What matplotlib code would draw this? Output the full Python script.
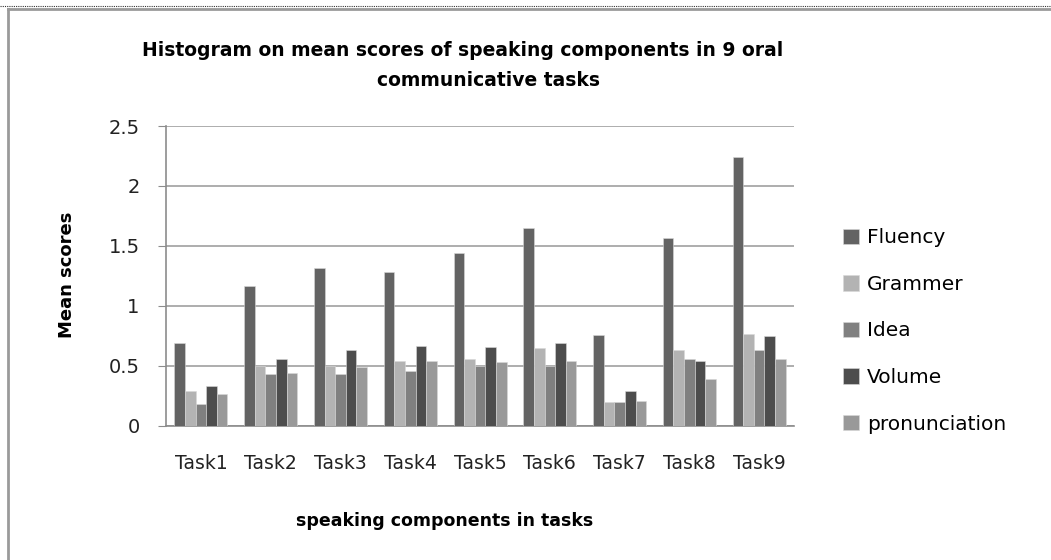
import numpy as np
from matplotlib import pyplot as plt
from matplotlib.lines import Line2D

#--- data ---------------------------------------------------------------------#
tasks = ['Task1', 'Task2', 'Task3', 'Task4', 'Task5', 'Task6', 'Task7', 'Task8', 'Task9']

fluency       = [0.69, 1.17, 1.32, 1.28, 1.44, 1.65, 0.76, 1.57, 2.24]
grammer       = [0.29, 0.50, 0.50, 0.54, 0.56, 0.65, 0.20, 0.63, 0.77]
idea          = [0.18, 0.43, 0.43, 0.46, 0.50, 0.50, 0.20, 0.56, 0.63]
volume        = [0.33, 0.56, 0.63, 0.67, 0.66, 0.69, 0.29, 0.54, 0.75]
pronunciation = [0.27, 0.44, 0.49, 0.54, 0.53, 0.54, 0.21, 0.39, 0.56]

series = [fluency, grammer, idea, volume, pronunciation]
labels = ['Fluency', 'Grammer', 'Idea', 'Volume', 'pronunciation']
colors = ['#636363', '#b3b3b3', '#808080', '#4d4d4d', '#999999']

#--- figure -------------------------------------------------------------------#
plt.rcParams['font.family'] = ['DejaVu Sans']

fig = plt.figure(figsize=(10.51, 5.60), dpi=100)
ax = fig.add_axes([0.158, 0.2393, 0.5975, 0.5357])

ind = np.arange(len(tasks))
width = 0.152

bars = []
for i, (vals, lab, col) in enumerate(zip(series, labels, colors)):
    b = ax.bar(ind + (i - 2) * width, vals, width, color=col, label=lab,
               edgecolor='#d8d8d8', linewidth=0.4, zorder=3)
    bars.append(b)

ax.set_xlim(-0.5, len(tasks) - 0.5)
ax.set_ylim(0, 2.5)
ax.set_yticks([0, 0.5, 1, 1.5, 2, 2.5])
ax.set_yticklabels(['0', '0.5', '1', '1.5', '2', '2.5'])
ax.set_xticks(ind)
ax.set_xticklabels(tasks)

ax.yaxis.grid(True, color='#a0a0a0', linewidth=1.2, zorder=0)
ax.set_axisbelow(True)

for s in ['top', 'right']:
    ax.spines[s].set_visible(False)
ax.spines['left'].set_color('#8c8c8c')
ax.spines['bottom'].set_color('#8c8c8c')
ax.spines['left'].set_linewidth(1.2)
ax.spines['bottom'].set_linewidth(1.2)

ax.tick_params(axis='y', length=6, color='#8c8c8c', pad=13, labelsize=14, labelcolor='#222222')
ax.tick_params(axis='x', length=0, pad=20, labelsize=13.5, labelcolor='#222222')

fig.text(0.44, 0.91, 'Histogram on mean scores of speaking components in 9 oral',
         ha='center', va='center', fontsize=13.5, fontweight='bold')
fig.text(0.465, 0.857, 'communicative tasks',
         ha='center', va='center', fontsize=13.5, fontweight='bold')
fig.text(0.423, 0.07, 'speaking components in tasks',
         ha='center', va='center', fontsize=12.5, fontweight='bold')
fig.text(0.064, 0.51, 'Mean scores', rotation=90,
         ha='center', va='center', fontsize=13, fontweight='bold')

fig.legend(handles=bars, labels=labels, loc='center left',
           bbox_to_anchor=(0.785, 0.409), frameon=False, fontsize=14.5,
           handlelength=0.8, handleheight=0.8, handletextpad=0.4,
           labelspacing=1.37)

#--- frame --------------------------------------------------------------------#
fig.add_artist(Line2D([0.0076, 0.0076], [0.0, 0.984], transform=fig.transFigure,
                      color='#9a9a9a', linewidth=2.0))
fig.add_artist(Line2D([0.0076, 1.0], [0.984, 0.984], transform=fig.transFigure,
                      color='#9a9a9a', linewidth=2.0))
fig.add_artist(Line2D([0.0, 1.0], [0.99, 0.99], transform=fig.transFigure,
                      color='#333333', linewidth=0.8, linestyle=(0, (1, 1))))

fig.savefig('out.png', dpi=100)
